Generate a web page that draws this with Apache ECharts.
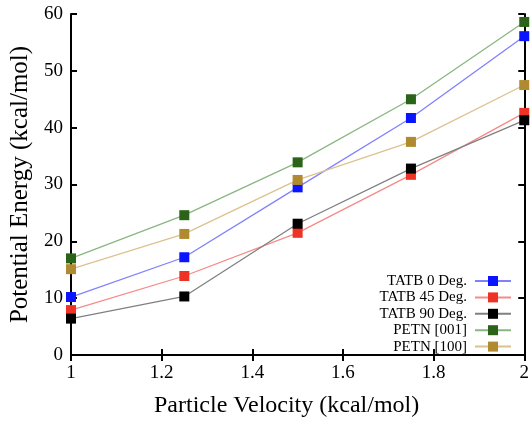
<!DOCTYPE html>
<html><head><meta charset="utf-8">
<script src="https://cdn.jsdelivr.net/npm/echarts@6/dist/echarts.min.js"></script>
<style>html,body{margin:0;padding:0;background:#fff}#c{width:532px;height:423px}</style>
</head><body><div id="c"></div>
<script>
const velocities = [1, 1.25, 1.5, 1.75, 2];
const tatb0 = [10.2, 17.2, 29.5, 41.7, 56.1];
const tatb45 = [7.9, 13.9, 21.5, 31.7, 42.6];
const tatb90 = [6.4, 10.3, 23.1, 32.8, 41.3];
const petn001 = [17.0, 24.6, 33.9, 45.0, 58.6];
const petn100 = [15.1, 21.3, 30.8, 37.5, 47.5];
const seriesNames = ['TATB 0 Deg.', 'TATB 45 Deg.', 'TATB 90 Deg.', 'PETN [001]', 'PETN [100]'];
const xTicks = [1, 1.2, 1.4, 1.6, 1.8, 2];

const seriesData = [tatb0, tatb45, tatb90, petn001, petn100];
const markerColors = ['#0a14ff', '#ee3326', '#000000', '#2b6418', '#b08a30'];
const lineColors = ['#8080ff', '#f58a86', '#808080', '#8ab682', '#dcc28e'];
const font = 'Liberation Serif';

const chart = echarts.init(document.getElementById('c'));
const tickStyle = {show: true, inside: true, length: 6, lineStyle: {color: '#000', width: 2}};
chart.setOption({
  animation: false,
  grid: {left: 71, right: 5, top: 14, bottom: 63},
  legend: {
    orient: 'vertical', right: 15, top: 268, align: 'right',
    itemWidth: 36, itemHeight: 12.5, itemGap: 0.4,
    textStyle: {fontFamily: font, fontSize: 15, lineHeight: 16, color: '#000', padding: [0, 3, 0, 0]},
    data: seriesNames
  },
  xAxis: [{
    type: 'value', min: 1, max: 2, interval: 0.2,
    name: 'Particle Velocity (kcal/mol)', nameLocation: 'middle', nameGap: 39,
    nameTextStyle: {fontFamily: font, fontSize: 24, color: '#000', padding: [0, 22, 0, 0]},
    axisLine: {lineStyle: {color: '#000', width: 2}},
    axisTick: tickStyle,
    axisLabel: {fontFamily: font, fontSize: 19, color: '#000', margin: 9,
      formatter: v => { const t = xTicks.find(x => Math.abs(x - v) < 1e-6); return t === undefined ? '' : String(t); }},
    splitLine: {show: false}
  }, {
    type: 'value', min: 1, max: 2, interval: 0.2, position: 'top',
    axisLine: {lineStyle: {color: '#000', width: 2}},
    axisTick: tickStyle, axisLabel: {show: false}, splitLine: {show: false}
  }],
  yAxis: [{
    type: 'value', min: 0, max: 60, interval: 10,
    name: 'Potential Energy (kcal/mol)', nameLocation: 'middle', nameGap: 36,
    nameTextStyle: {fontFamily: font, fontSize: 25, color: '#000'},
    axisLine: {show: true, lineStyle: {color: '#000', width: 2}},
    axisTick: tickStyle,
    axisLabel: {fontFamily: font, fontSize: 19, color: '#000', margin: 8},
    splitLine: {show: false}
  }, {
    type: 'value', min: 0, max: 60, interval: 10, position: 'right',
    axisLine: {show: true, lineStyle: {color: '#000', width: 2}},
    axisTick: tickStyle, axisLabel: {show: false}, splitLine: {show: false}
  }],
  series: seriesNames.map((n, i) => ({
    name: n, type: 'line',
    data: velocities.map((v, j) => [v, seriesData[i][j]]),
    symbol: 'rect', symbolSize: 10,
    itemStyle: {color: markerColors[i]},
    lineStyle: {color: lineColors[i], width: 1.3},
    z: 3 + i
  }))
});
</script></body></html>
